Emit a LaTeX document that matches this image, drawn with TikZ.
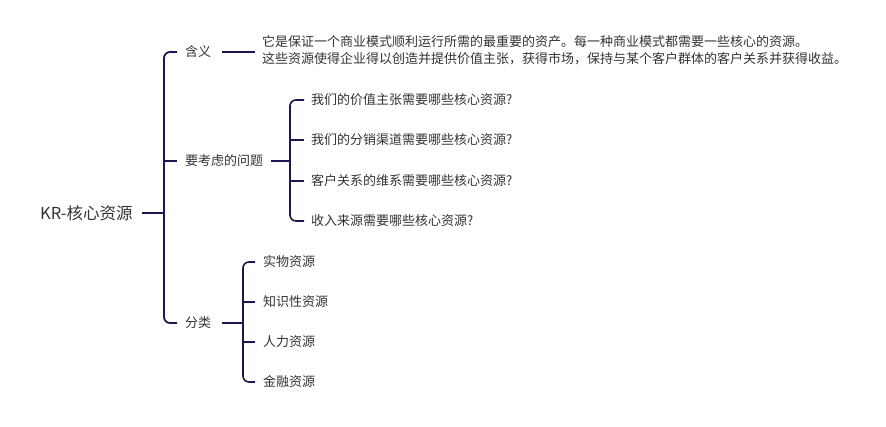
\documentclass[tikz,border=0pt]{standalone}
\usepackage{fontspec}
\setmainfont{Noto Sans CJK SC}
\definecolor{navy}{HTML}{1E1650}
\definecolor{txtgray}{HTML}{333333}
\begin{document}
\begin{tikzpicture}[x=1pt,y=-1pt,
  txt/.style={anchor=west,inner sep=0pt,text=txtgray,font=\fontsize{13}{17}\selectfont},
  rootstyle/.style={anchor=west,inner sep=0pt,text=txtgray,font=\fontsize{16.5}{20}\selectfont},
  link/.style={draw=navy,line width=1.8pt,rounded corners=6pt},
  sublink/.style={draw=navy,line width=1.6pt,rounded corners=6pt}]
\useasboundingbox (0,0) rectangle (886,426);
% nodes
\node[rootstyle] (root) at (40,213) {KR-核心资源};
\node[txt] (hanyi) at (185,52) {含义};
\node[txt] (wenti) at (185,161) {要考虑的问题};
\node[txt] (fenlei) at (185,323) {分类};
\node[txt,align=left] (desc) at (262,50) {它是保证一个商业模式顺利运行所需的最重要的资产。每一种商业模式都需要一些核心的资源。\\这些资源使得企业得以创造并提供价值主张，获得市场，保持与某个客户群体的客户关系并获得收益。};
\node[txt] (q1) at (311,100) {我们的价值主张需要哪些核心资源?};
\node[txt] (q2) at (311,140) {我们的分销渠道需要哪些核心资源?};
\node[txt] (q3) at (311,181) {客户关系的维系需要哪些核心资源?};
\node[txt] (q4) at (311,221) {收入来源需要哪些核心资源?};
\node[txt] (c1) at (263,262) {实物资源};
\node[txt] (c2) at (263,302) {知识性资源};
\node[txt] (c3) at (263,342) {人力资源};
\node[txt] (c4) at (263,382) {金融资源};
% junction coordinates
\coordinate (t) at (164,213);
\coordinate (tq) at (290,161);
\coordinate (tc) at (243,323);
% root connections
\draw[link] ([xshift=9pt]root.east) -- (t);
\draw[link] ([xshift=-8pt]hanyi.west) -| (t) |- ([xshift=-8pt]fenlei.west);
\draw[link] (t |- wenti.west) -- ([xshift=-8pt]wenti.west);
% meaning
\draw[sublink] ([xshift=11pt]hanyi.east) -- ([xshift=-7pt]hanyi.east -| desc.west);
% questions
\draw[sublink] ([xshift=8pt]wenti.east) -- (tq);
\draw[sublink] ([xshift=-7pt]q1.west) -| (tq) |- ([xshift=-7pt]q4.west);
\draw[sublink] (tq |- q2.west) -- ([xshift=-7pt]q2.west);
\draw[sublink] (tq |- q3.west) -- ([xshift=-7pt]q3.west);
% categories
\draw[sublink] ([xshift=11pt]fenlei.east) -- (tc);
\draw[sublink] ([xshift=-8pt]c1.west) -| (tc) |- ([xshift=-8pt]c4.west);
\draw[sublink] (tc |- c2.west) -- ([xshift=-8pt]c2.west);
\draw[sublink] (tc |- c3.west) -- ([xshift=-8pt]c3.west);
\end{tikzpicture}
\end{document}
